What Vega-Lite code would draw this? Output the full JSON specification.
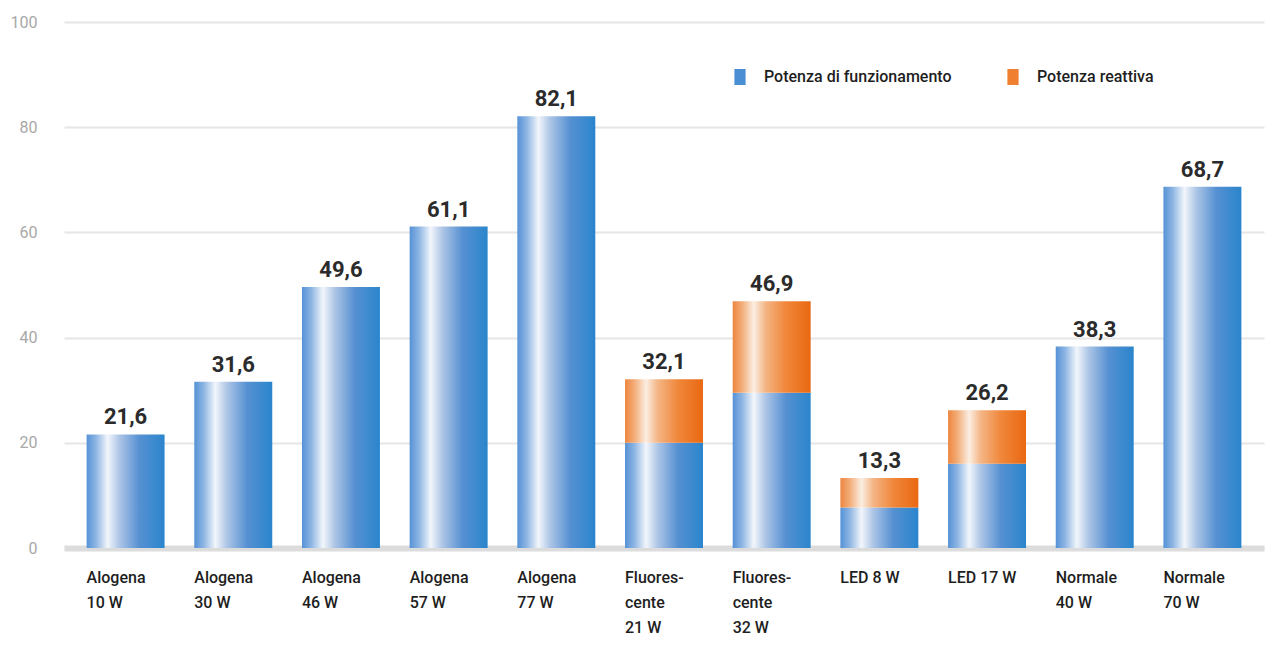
{
  "$schema": "https://vega.github.io/schema/vega-lite/v6.json",
  "autosize": {"type": "none"},
  "padding": {"left": 64, "top": 22, "right": 9, "bottom": 103},
  "width": 1200,
  "height": 526,
  "background": "white",
  "config": {
    "locale": {"number": {"decimal": ",", "thousands": ".", "grouping": [3], "currency": ["", " €"]}},
    "view": {"stroke": null},
    "font": "Roboto"
  },
  "data": {
    "values": [
      {"lampada": "Alogena|10 W", "tipo": "Potenza di funzionamento", "valore": 21.6},
      {"lampada": "Alogena|30 W", "tipo": "Potenza di funzionamento", "valore": 31.6},
      {"lampada": "Alogena|46 W", "tipo": "Potenza di funzionamento", "valore": 49.6},
      {"lampada": "Alogena|57 W", "tipo": "Potenza di funzionamento", "valore": 61.1},
      {"lampada": "Alogena|77 W", "tipo": "Potenza di funzionamento", "valore": 82.1},
      {"lampada": "Fluores-|cente|21 W", "tipo": "Potenza di funzionamento", "valore": 20.0},
      {"lampada": "Fluores-|cente|32 W", "tipo": "Potenza di funzionamento", "valore": 29.5},
      {"lampada": "LED 8 W", "tipo": "Potenza di funzionamento", "valore": 7.7},
      {"lampada": "LED 17 W", "tipo": "Potenza di funzionamento", "valore": 16.0},
      {"lampada": "Normale|40 W", "tipo": "Potenza di funzionamento", "valore": 38.3},
      {"lampada": "Normale|70 W", "tipo": "Potenza di funzionamento", "valore": 68.7},
      {"lampada": "Fluores-|cente|21 W", "tipo": "Potenza reattiva", "valore": 12.1},
      {"lampada": "Fluores-|cente|32 W", "tipo": "Potenza reattiva", "valore": 17.4},
      {"lampada": "LED 8 W", "tipo": "Potenza reattiva", "valore": 5.6},
      {"lampada": "LED 17 W", "tipo": "Potenza reattiva", "valore": 10.2}
    ]
  },
  "transform": [
    {"stack": "valore", "groupby": ["lampada"], "sort": [{"field": "tipo", "order": "ascending"}], "as": ["v0", "v1"]}
  ],
  "encoding": {
    "x": {
      "field": "lampada",
      "type": "nominal",
      "sort": ["Alogena|10 W", "Alogena|30 W", "Alogena|46 W", "Alogena|57 W", "Alogena|77 W", "Fluores-|cente|21 W", "Fluores-|cente|32 W", "LED 8 W", "LED 17 W", "Normale|40 W", "Normale|70 W"],
      "scale": {"paddingInner": 0.276, "paddingOuter": 0.21},
      "axis": {
        "title": null,
        "labelAngle": 0,
        "labelAlign": "left",
        "labelBaseline": "top",
        "labelOffset": -39,
        "labelPadding": 21,
        "labelExpr": "split(datum.label, '|')",
        "labelLineHeight": 25,
        "labelFontSize": 16,
        "labelFontWeight": 500,
        "labelColor": "#1e1e1e",
        "labelFont": "Roboto",
        "ticks": false,
        "domainColor": "#dcdcdc",
        "domainWidth": 6,
        "grid": false
      }
    }
  },
  "layer": [
    {
      "mark": {"type": "bar", "opacity": 0},
      "encoding": {
        "y": {
          "field": "v1",
          "type": "quantitative",
          "scale": {"domain": [0, 100]},
          "axis": {
            "title": null,
            "values": [0, 20, 40, 60, 80, 100],
            "domain": false,
            "ticks": false,
            "labelPadding": 27,
            "labelFontSize": 16,
            "labelColor": "#a8a8a8",
            "labelFont": "Roboto",
            "gridColor": "#e6e6e6",
            "gridWidth": 2
          }
        },
        "y2": {"field": "v0"},
        "color": {
          "field": "tipo",
          "type": "nominal",
          "scale": {
            "domain": ["Potenza di funzionamento", "Potenza reattiva"],
            "range": ["#4a8fd4", "#f08030"]
          },
          "legend": {
            "title": null,
            "orient": "none",
            "direction": "horizontal",
            "legendX": 668,
            "legendY": 47,
            "symbolType": "M-0.7,-1H0.7V1H-0.7Z",
            "symbolSize": 256,
            "symbolOpacity": 1,
            "symbolStrokeWidth": 0,
            "labelFontSize": 16,
            "labelFontWeight": 500,
            "labelColor": "#1e1e1e",
            "labelFont": "Roboto",
            "labelLimit": 400,
            "labelOffset": 16,
            "columnPadding": 53,
            "encode": {
              "symbols": {
                "update": {
                  "opacity": {"value": 1},
                  "fill": [
                    {"test": "datum.value === 'Potenza reattiva'", "value": {"gradient": "linear", "x1": 0, "y1": 0, "x2": 1, "y2": 0, "stops": [
                      {"offset": 0, "color": "#ee8a40"},
                      {"offset": 0.3, "color": "#fbe6d4"},
                      {"offset": 0.6, "color": "#f08a3e"},
                      {"offset": 1, "color": "#ec6b14"}
                    ]}},
                    {"value": {"gradient": "linear", "x1": 0, "y1": 0, "x2": 1, "y2": 0, "stops": [
                      {"offset": 0, "color": "#5b93d5"},
                      {"offset": 0.3, "color": "#dfe9f7"},
                      {"offset": 0.6, "color": "#5e93d2"},
                      {"offset": 1, "color": "#2f87cc"}
                    ]}}
                  ]
                }
              }
            }
          }
        }
      }
    },
    {
      "transform": [{"filter": "datum.tipo === 'Potenza di funzionamento'"}],
      "mark": {
        "type": "bar",
        "color": {"gradient": "linear", "x1": 0, "y1": 0, "x2": 1, "y2": 0, "stops": [
          {"offset": 0, "color": "#5592d6"},
          {"offset": 0.12, "color": "#8db5e3"},
          {"offset": 0.27, "color": "#f2f6fb"},
          {"offset": 0.42, "color": "#adc5e6"},
          {"offset": 0.68, "color": "#5590d2"},
          {"offset": 1, "color": "#2a85cc"}
        ]}
      },
      "encoding": {
        "y": {"field": "v1", "type": "quantitative"},
        "y2": {"field": "v0"}
      }
    },
    {
      "transform": [{"filter": "datum.tipo === 'Potenza reattiva'"}],
      "mark": {
        "type": "bar",
        "color": {"gradient": "linear", "x1": 0, "y1": 0, "x2": 1, "y2": 0, "stops": [
          {"offset": 0, "color": "#ed8640"},
          {"offset": 0.12, "color": "#f3ad78"},
          {"offset": 0.27, "color": "#fbeee2"},
          {"offset": 0.42, "color": "#f4b585"},
          {"offset": 0.68, "color": "#f0873a"},
          {"offset": 1, "color": "#ea6812"}
        ]}
      },
      "encoding": {
        "y": {"field": "v1", "type": "quantitative"},
        "y2": {"field": "v0"}
      }
    },
    {
      "transform": [
        {"aggregate": [{"op": "sum", "field": "valore", "as": "totale"}], "groupby": ["lampada"]}
      ],
      "mark": {"type": "text", "baseline": "bottom", "dy": -5, "fontSize": 22, "fontWeight": "bold", "color": "#2b2b2b", "font": "Roboto"},
      "encoding": {
        "y": {"field": "totale", "type": "quantitative"},
        "text": {"field": "totale", "type": "quantitative", "format": ".1f"}
      }
    }
  ]
}
